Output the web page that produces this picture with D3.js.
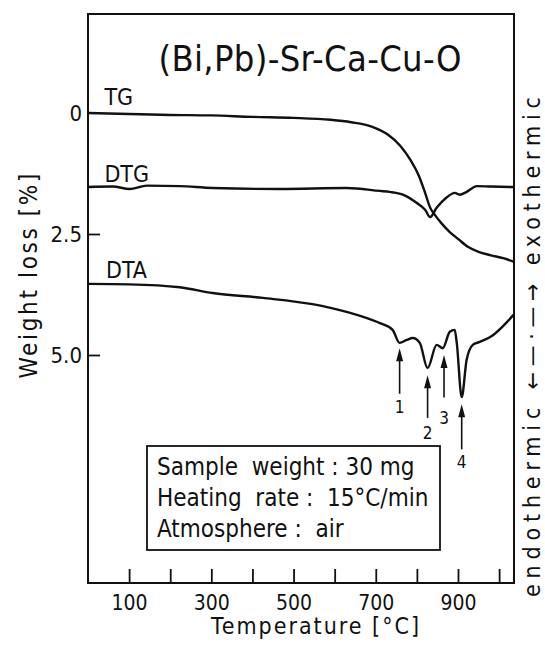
<!DOCTYPE html>
<html><head><meta charset="utf-8">
<script src="https://cdn.jsdelivr.net/npm/d3@7"></script>
<style>
body{margin:0;background:#fff;}
text{font-family:'DejaVu Sans Condensed','DejaVu Sans',sans-serif;fill:#111;}
</style></head>
<body><svg id="c" width="545" height="648"></svg>
<script>
// ---- data (temperature °C, weight loss %) ----
const tgT   = [0,100,200,300,400,500,590,640,690,730,760,785,805,820,832,845,860,880,900,925,950,980,1010,1035];
const tgV   = [0,0.02,0.04,0.05,0.08,0.1,0.14,0.19,0.28,0.45,0.68,0.98,1.3,1.65,1.95,2.12,2.28,2.46,2.6,2.77,2.87,2.94,3.0,3.07];
const dtgT  = [0,60,101,143,223,303,466,629,710,734,770,800,820,832,848,873,892,904,921,946,980,1035];
const dtgV  = [1.53,1.52,1.57,1.5,1.51,1.55,1.57,1.55,1.61,1.63,1.7,1.86,2.0,2.15,1.96,1.74,1.65,1.69,1.63,1.51,1.52,1.53];
const dtaT  = [0,100,223,303,425,546,629,692,710,741,758,775,790,807,826,848,863,880,892,897,909,921,936,953,985,1019,1035];
const dtaV  = [3.53,3.54,3.6,3.72,3.82,3.95,4.11,4.28,4.34,4.48,4.75,4.69,4.65,4.75,5.27,4.79,4.86,4.52,4.48,4.75,5.87,5.1,4.79,4.73,4.59,4.32,4.17];
const curveNames = ["TG","DTG","DTA"];
const curveLabelPos = [[40,-0.16],[40,1.42],[44,3.41]]; // [T, value] where label sits
const xTickValues = [100,200,300,400,500,600,700,800,900,1000];
const xTickLabels = ["100","","300","","500","","700","","900",""];
const yTickValues = [0,2.5,5.0];
const yTickLabels = ["0","2.5","5.0"];
const arrowT    = [758,826,866,909];
const arrowTip  = [4.86,5.42,5.0,6.02];
const arrowTail = [5.8,6.3,5.88,6.95];
const arrowLbl  = ["1","2","3","4"];
const arrowLblV = [6.08,6.62,6.3,7.22];
const infoLines = ["Sample  weight : 30 mg","Heating  rate :  15°C/min","Atmosphere :  air"];
const title = "(Bi,Pb)-Sr-Ca-Cu-O";

// ---- layout ----
const FF = "'DejaVu Sans Condensed','DejaVu Sans',sans-serif";
const svg = d3.select("#c");
const L=88, R=514, T=14, B=583;
const x = d3.scaleLinear().domain([0,1035]).range([88,513.5]);
const y = d3.scaleLinear().domain([0,5]).range([113,355]);

const line = d3.line().curve(d3.curveMonotoneX).x(d=>x(d[0])).y(d=>y(d[1]));
const series = [d3.zip(tgT,tgV), d3.zip(dtgT,dtgV), d3.zip(dtaT,dtaV)];
series.forEach(s=>{
  svg.append("path").attr("d",line(s)).attr("fill","none").attr("stroke","#111")
    .attr("stroke-width",2.4).attr("stroke-linejoin","round");
});

// frame
svg.append("rect").attr("x",L).attr("y",T).attr("width",R-L).attr("height",B-T)
  .attr("fill","none").attr("stroke","#111").attr("stroke-width",2);

// x axis (ticks inward)
const xa = svg.append("g").attr("transform",`translate(0,${B})`)
  .call(d3.axisBottom(x).tickValues(xTickValues).tickSizeInner(-14).tickSizeOuter(0).tickPadding(12)
        .tickFormat((d,i)=>xTickLabels[i]));
xa.select(".domain").remove();
xa.selectAll("line").attr("stroke","#111").attr("stroke-width",1.8);
xa.selectAll("text").attr("font-size",21).attr("fill","#111").style("font-family",FF);

// y axis
const ya = svg.append("g").attr("transform",`translate(${L},0)`)
  .call(d3.axisLeft(y).tickValues(yTickValues).tickSizeInner(-12).tickSizeOuter(0).tickPadding(6)
        .tickFormat((d,i)=>yTickLabels[i]));
ya.select(".domain").remove();
ya.selectAll("line").attr("stroke","#111").attr("stroke-width",1.8).attr("opacity",(d)=>d===0?0:1);
ya.selectAll("text").attr("font-size",22).attr("fill","#111").style("font-family",FF);

// curve labels
curveNames.forEach((n,i)=>{
  svg.append("text").attr("x",x(curveLabelPos[i][0])).attr("y",y(curveLabelPos[i][1]))
    .attr("font-size",23).text(n);
});

// title
svg.append("text").attr("x",310).attr("y",71).attr("text-anchor","middle")
  .attr("font-size",36).attr("textLength",303).attr("lengthAdjust","spacing").text(title);

// axis titles
svg.append("text").attr("transform","translate(37,276) rotate(-90)").attr("text-anchor","middle")
  .attr("font-size",24).attr("textLength",205).attr("lengthAdjust","spacing").text("Weight  loss  [%]");
svg.append("text").attr("x",315).attr("y",634).attr("text-anchor","middle")
  .attr("font-size",23).attr("textLength",208).attr("lengthAdjust","spacing").text("Temperature [°C]");
svg.append("text").attr("transform","translate(540,347) rotate(-90)").attr("text-anchor","middle")
  .attr("font-size",23).attr("textLength",500).attr("lengthAdjust","spacing")
  .text("endothermic ←—·—→ exothermic");

// arrows
arrowT.forEach((t,i)=>{
  svg.append("line").attr("x1",x(t)).attr("x2",x(t)).attr("y1",y(arrowTail[i])).attr("y2",y(arrowTip[i])+6)
    .attr("stroke","#111").attr("stroke-width",1.6);
  svg.append("path").attr("d",`M${x(t)},${y(arrowTip[i])} l-3.5,13 l7,0 Z`).attr("fill","#111");
  svg.append("text").attr("x",x(t)).attr("y",y(arrowLblV[i])+6).attr("text-anchor","middle")
    .attr("font-size",17).text(arrowLbl[i]);
});

// info box
svg.append("rect").attr("x",147).attr("y",446).attr("width",293).attr("height",104)
  .attr("fill","#fff").attr("stroke","#111").attr("stroke-width",1.8);
infoLines.forEach((s,i)=>{
  svg.append("text").attr("x",157).attr("y",475+i*31).attr("font-size",24)
    .style("white-space","pre").attr("xml:space","preserve").text(s);
});
</script></body></html>
